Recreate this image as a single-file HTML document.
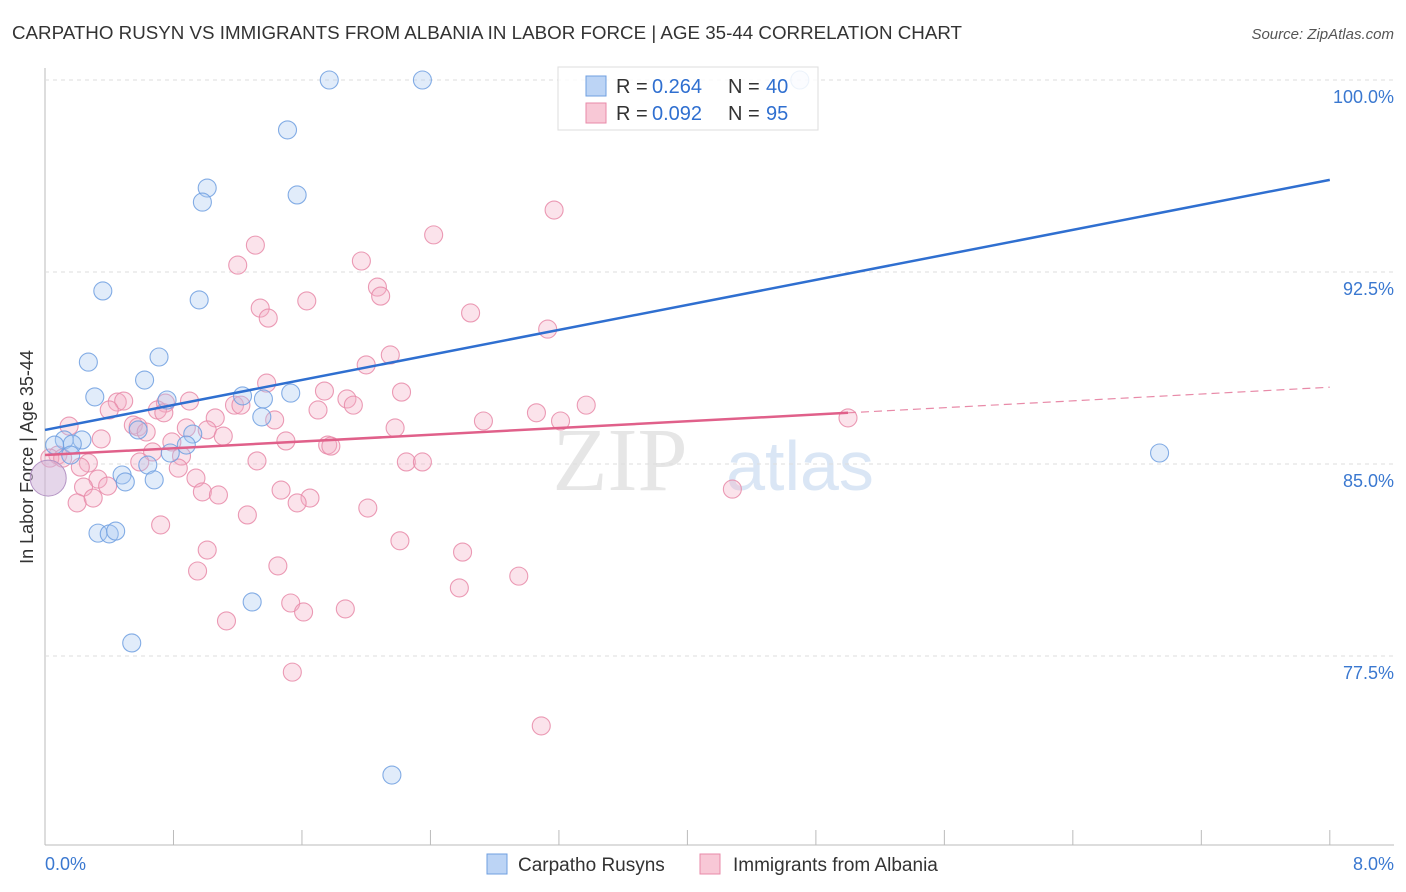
<!DOCTYPE html>
<html><head><meta charset="utf-8">
<style>
body{margin:0;background:#fff;font-family:"Liberation Sans",sans-serif;}
#wrap{position:relative;width:1406px;height:892px;overflow:hidden;}
</style></head>
<body>
<div id="wrap">
<svg id="svg" width="1406" height="892" xmlns="http://www.w3.org/2000/svg">
<text x="12" y="39" font-size="18" fill="#333" textLength="950" lengthAdjust="spacingAndGlyphs">CARPATHO RUSYN VS IMMIGRANTS FROM ALBANIA IN LABOR FORCE | AGE 35-44 CORRELATION CHART</text>
<text x="1394" y="39" font-size="15" fill="#555" font-style="italic" text-anchor="end">Source: ZipAtlas.com</text>
<text x="33" y="457" font-size="18" fill="#333" text-anchor="middle" transform="rotate(-90 33 457)">In Labor Force | Age 35-44</text>
<text x="620" y="490" font-size="90" fill="#e6e6e6" font-family="Liberation Serif" text-anchor="middle">ZIP</text>
<text x="800" y="490" font-size="70" fill="#dae6f5" text-anchor="middle">atlas</text>
<g id="grid"></g><g id="pts"></g><g id="lines"></g>
<g>
<rect x="558" y="67" width="260" height="63" fill="#fff" fill-opacity="0.85" stroke="#ddd"/>
<rect x="586" y="76" width="20" height="20" fill="#bcd4f5" stroke="#6f9fe0"/>
<text x="616" y="93" font-size="20" fill="#333">R =</text>
<text x="652" y="93" font-size="20" fill="#2f6fd0">0.264</text>
<text x="728" y="93" font-size="20" fill="#333">N =</text>
<text x="766" y="93" font-size="20" fill="#2f6fd0">40</text>
<rect x="586" y="103" width="20" height="20" fill="#f8c8d6" stroke="#e88aa8"/>
<text x="616" y="120" font-size="20" fill="#333">R =</text>
<text x="652" y="120" font-size="20" fill="#2f6fd0">0.092</text>
<text x="728" y="120" font-size="20" fill="#333">N =</text>
<text x="766" y="120" font-size="20" fill="#2f6fd0">95</text>
</g>
<g>
<rect x="487" y="854" width="20" height="20" fill="#bcd4f5" stroke="#6f9fe0"/>
<text x="518" y="871" font-size="19" fill="#333">Carpatho Rusyns</text>
<rect x="700" y="854" width="20" height="20" fill="#f8c8d6" stroke="#e88aa8"/>
<text x="733" y="871" font-size="19" fill="#333">Immigrants from Albania</text>
</g>
<text x="45" y="870" font-size="18" fill="#3a78d0">0.0%</text>
<text x="1394" y="870" font-size="18" fill="#3a78d0" text-anchor="end">8.0%</text>
</svg>
</div>
<script>
const yTicks=[100,92.5,85,77.5];
const yTickLabels=["100.0%","92.5%","85.0%","77.5%"];
const xTicks=[0,0.8,1.6,2.4,3.2,4.0,4.8,5.6,6.4,7.2,8.0];
const blueX=[1.77,2.35,4.70,1.51,1.01,0.98,1.57,0.36,0.96,0.27,0.71,0.62,0.31,0.76,1.23,1.36,1.53,1.35,0.58,0.92,0.88,0.23,0.12,0.06,0.17,0.16,0.78,0.64,0.48,0.50,0.68,0.33,0.40,0.44,1.29,0.54,2.16,6.94];
const blueY=[100.0,100.0,100.0,98.05,95.78,95.23,95.51,91.76,91.41,88.98,89.18,88.28,87.62,87.5,87.66,87.54,87.77,86.84,86.33,86.17,85.74,85.94,85.94,85.74,85.78,85.35,85.43,84.96,84.57,84.3,84.38,82.3,82.27,82.38,79.61,78.01,72.85,85.43];
const pinkX=[3.17,2.42,1.31,1.20,1.97,2.07,2.09,1.63,1.34,1.39,2.65,3.13,2.15,2.00,1.38,1.74,2.22,1.88,1.92,0.45,0.49,0.90,0.75,0.40,0.70,0.74,1.18,1.22,1.70,1.06,1.43,2.73,3.06,3.21,3.37,5.00,0.15,0.55,0.58,0.88,1.01,0.63,1.11,2.18,0.35,0.79,1.50,1.76,1.78,0.67,0.85,0.08,0.03,0.27,0.59,1.32,2.25,2.35,0.83,0.94,0.33,0.39,0.24,1.47,0.98,1.08,1.65,1.57,0.20,0.30,2.01,1.26,0.72,2.21,1.01,2.60,1.45,0.95,2.95,2.58,1.53,1.61,1.87,1.13,1.54,3.09,4.28,0.11,0.22];
const pinkY=[94.92,93.95,93.55,92.77,92.93,91.91,91.56,91.37,91.09,90.7,90.9,90.27,89.26,88.87,88.16,87.85,87.81,87.54,87.3,87.42,87.46,87.46,87.38,87.11,87.11,87.0,87.3,87.3,87.11,86.8,86.72,86.68,87.0,86.68,87.3,86.8,86.48,86.52,86.45,86.41,86.33,86.25,86.09,86.41,85.98,85.86,85.9,85.74,85.7,85.47,85.31,85.35,85.23,85.04,85.08,85.12,85.08,85.08,84.84,84.45,84.41,84.14,84.1,83.98,83.91,83.79,83.67,83.48,83.48,83.67,83.28,83.01,82.62,82.0,81.64,81.56,81.02,80.82,80.62,80.16,79.57,79.22,79.34,78.87,76.87,74.77,84.02,85.23,84.88];
const blueTrend=[[0,86.33],[8,96.1]];
const pinkTrend=[[0,85.35],[5,87.0],[8,88.0]];
const NS="http://www.w3.org/2000/svg";
const X=v=>45+v*160.6, Y=v=>80+(100-v)*25.6;
function mk(tag,attrs,parent){const e=document.createElementNS(NS,tag);for(const k in attrs)e.setAttribute(k,attrs[k]);parent.appendChild(e);return e;}
const grid=document.getElementById('grid'),pts=document.getElementById('pts'),lines=document.getElementById('lines');
let ax=mk('line',{x1:45,y1:68,x2:45,y2:845,stroke:'#bbb'},grid);

let bx=mk('line',{x1:45,y1:845,x2:1394,y2:845,stroke:'#bbb'},grid);

yTicks.forEach((t,i)=>{
 let g=mk('line',{x1:45,x2:1394,y1:Y(t),y2:Y(t),stroke:'#ddd','stroke-dasharray':'4 4'},grid);
 
 let tx=mk('text',{x:1394,y:Y(t)+23,'font-size':18,fill:'#3a78d0','text-anchor':'end'},grid);
 tx.textContent=yTickLabels[i];
 
});
xTicks.forEach(t=>{
 let l=mk('line',{x1:X(t),x2:X(t),y1:830,y2:845,stroke:'#bbb'},grid);
 
});
function dots(xs,ys,fill,stroke,name){xs.forEach((x,i)=>{
 let c=mk('circle',{cx:X(x),cy:Y(ys[i]),r:9,fill:fill,'fill-opacity':0.35,stroke:stroke,'stroke-width':1.1,'stroke-opacity':0.85},pts);
 });}
dots(pinkX,pinkY,'#f4b0c6','#e88aa8','pink-point');
dots(blueX,blueY,'#a9c8f0','#6f9fe0','blue-point');
let big=mk('circle',{cx:X(0.02),cy:Y(84.45),r:18,fill:'#d0b4d8','fill-opacity':0.55,stroke:'#b494c4'},pts);

let bl=mk('line',{x1:X(blueTrend[0][0]),y1:Y(blueTrend[0][1]),x2:X(blueTrend[1][0]),y2:Y(blueTrend[1][1]),stroke:'#2f6fd0','stroke-width':2.5},lines);

let pl=mk('line',{x1:X(pinkTrend[0][0]),y1:Y(pinkTrend[0][1]),x2:X(pinkTrend[1][0]),y2:Y(pinkTrend[1][1]),stroke:'#e0608a','stroke-width':2.5},lines);

let pd=mk('line',{x1:X(pinkTrend[1][0]),y1:Y(pinkTrend[1][1]),x2:X(pinkTrend[2][0]),y2:Y(pinkTrend[2][1]),stroke:'#e88aa8','stroke-width':1.2,'stroke-dasharray':'8 5'},lines);

</script>
</body></html>
